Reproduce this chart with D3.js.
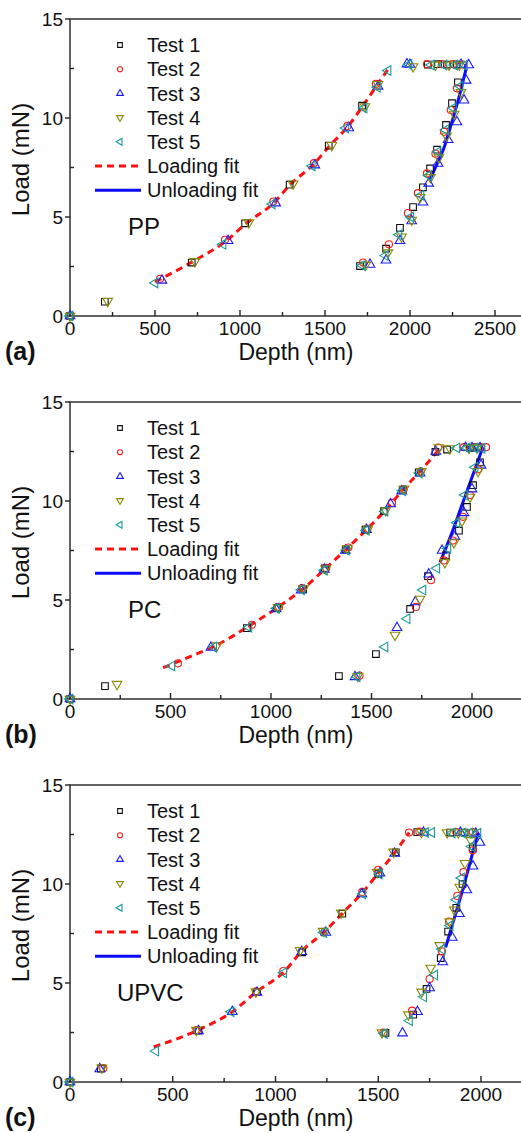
<!DOCTYPE html>
<html>
<head>
<meta charset="utf-8">
<script src="https://cdn.jsdelivr.net/npm/d3@7/dist/d3.min.js"></script>
<style>
  html, body { margin: 0; padding: 0; background: #fff; }
  svg { display: block; font-family: "Liberation Sans", Arial, sans-serif; }
</style>
</head>
<body>
<svg id="chart" width="521" height="1133"></svg>
<script>
// ---- Nanoindentation load–depth data: [depth (nm), load (mN)] ----
const testNames = ["Test 1", "Test 2", "Test 3", "Test 4", "Test 5"];
const testColors = ["#111111", "#ff1a1a", "#1a1aff", "#8a8a00", "#1a9a9a"];
const panelTags = ["(a)", "(b)", "(c)"];
const materials = ["PP", "PC", "UPVC"];
const loadTicks = [0, 5, 10, 15];
const depthTicksA = [0, 500, 1000, 1500, 2000, 2500];
const depthTicksBC = [0, 500, 1000, 1500, 2000];

// (a) PP
const ppTest1 = [[0,0],[205,0.72],[716,2.7],[1030,4.68],[1292,6.63],[1522,8.6],[1718,10.62],
  [2105,12.7],[2165,12.72],[2218,12.7],[2276,12.7],
  [2282,11.8],[2247,10.75],[2212,9.65],[2159,8.4],[2118,7.45],[2076,6.5],[2018,5.5],[1941,4.45],[1859,3.4],[1706,2.52]];
const ppTest2 = [[0,0],[530,1.88],[912,3.85],[1196,5.78],[1435,7.72],[1632,9.6],[1800,11.72],
  [2100,12.72],[2188,12.72],[2253,12.72],[2312,12.7],
  [2276,11.5],[2240,10.4],[2200,9.3],[2150,8.2],[2100,7.2],[2047,6.2],[1988,5.2],[1876,3.62],[1724,2.7]];
const ppTest3 = [[0,0],[541,1.8],[930,3.8],[1210,5.7],[1440,7.62],[1640,9.5],[1812,11.6],
  [1982,12.72],[2000,12.7],[2300,12.7],[2345,12.68],
  [2330,11.9],[2318,10.9],[2276,9.8],[2224,8.9],[2165,7.7],[2110,6.7],[2076,5.75],[2010,4.8],[1941,3.8],[1859,2.82],[1765,2.6]];
const ppTest4 = [[0,0],[222,0.75],[735,2.76],[1052,4.72],[1312,6.68],[1540,8.62],[1735,10.58],[1812,11.7],
  [2018,12.6],[2150,12.68],[2230,12.68],[2290,12.68],
  [2300,11.3],[2260,10.2],[2215,9.1],[2170,8.0],[2120,7.0],[2060,6.0],[2010,4.85],[1950,4.0],[1870,3.2],[1740,2.58]];
const ppTest5 = [[0,0],[500,1.67],[900,3.62],[1190,5.66],[1425,7.58],[1622,9.5],[1730,10.5],[1808,11.55],[1871,12.4],
  [1994,12.7],[2125,12.68],[2200,12.68],[2262,12.68],[2320,12.66],
  [2295,11.6],[2255,10.5],[2210,9.4],[2165,8.3],[2110,7.1],[2065,6.1],[2005,5.0],[1935,4.1],[1855,3.05],[1720,2.55]];
const ppLoadingFit = [[500,1.72],[716,2.72],[912,3.75],[1040,4.7],[1200,5.72],[1295,6.63],[1432,7.66],
  [1528,8.6],[1632,9.55],[1722,10.6],[1805,11.65],[1870,12.45]];
const ppUnloadingFit = [[2330,12.5],[2290,11.1],[2250,9.9],[2200,8.5],[2150,7.5],[2118,6.9]];

// (b) PC
const pcTest1 = [[0,0],[174,0.65],[880,3.58],[1030,4.6],[1160,5.55],[1268,6.6],[1372,7.55],[1470,8.55],[1562,9.5],[1655,10.55],[1735,11.45],[1818,12.48],
  [1876,12.6],[1990,12.68],[2030,12.7],
  [2040,11.95],[2005,10.8],[1975,9.7],[1935,8.5],[1870,7.25],[1781,6.2],[1692,4.55],[1522,2.27],[1338,1.16]];
const pcTest2 = [[0,0],[537,1.8],[905,3.75],[1040,4.65],[1155,5.6],[1275,6.62],[1385,7.65],[1480,8.6],[1602,9.9],[1660,10.6],[1745,11.5],[1832,12.7],
  [1960,12.72],[2010,12.72],[2045,12.72],[2070,12.72],
  [2030,11.6],[1990,10.3],[1955,9.2],[1905,8.0],[1860,7.0],[1796,6.0],[1721,4.65],[1440,1.18]];
const pcTest3 = [[0,0],[701,2.6],[1025,4.55],[1150,5.5],[1265,6.55],[1370,7.5],[1475,8.55],[1595,9.85],[1650,10.5],[1742,11.4],[1820,12.5],
  [1968,12.7],[2000,12.68],[2040,12.68],
  [2045,11.8],[2000,10.6],[1960,9.4],[1915,8.2],[1851,7.5],[1785,6.3],[1718,4.9],[1627,3.6],[1418,1.12]];
const pcTest4 = [[0,0],[234,0.75],[731,2.7],[1035,4.62],[1162,5.58],[1272,6.58],[1380,7.6],[1482,8.6],[1570,9.52],[1662,10.62],[1748,11.5],
  [1835,12.7],[1890,12.65],[1985,12.68],[2025,12.68],
  [2030,11.5],[1990,10.2],[1950,9.0],[1910,7.9],[1865,6.9],[1741,5.05],[1617,3.23],[1432,1.15]];
const pcTest5 = [[0,0],[507,1.67],[715,2.62],[890,3.62],[1028,4.58],[1152,5.52],[1266,6.5],[1375,7.52],[1474,8.52],[1567,9.48],[1655,10.52],[1738,11.42],
  [1925,12.68],[1975,12.68],[2015,12.68],[2050,12.66],
  [2015,11.7],[1965,10.3],[1925,8.9],[1880,7.6],[1825,6.6],[1756,5.5],[1677,4.05],[1567,2.63],[1428,1.13]];
const pcLoadingFit = [[463,1.58],[600,2.15],[730,2.72],[880,3.62],[1030,4.6],[1160,5.57],[1270,6.58],
  [1375,7.57],[1478,8.58],[1570,9.55],[1655,10.55],[1740,11.48],[1832,12.55]];
const pcUnloadingFit = [[2050,12.6],[2000,11.2],[1950,9.8],[1900,8.4],[1841,6.9]];

// (c) UPVC
const upvcTest1 = [[0,0],[150,0.68],[625,2.6],[910,4.55],[1130,6.55],[1325,8.5],[1500,10.5],[1585,11.6],
  [1690,12.62],[1850,12.6],[1920,12.6],
  [1960,11.8],[1910,10.0],[1880,8.8],[1840,7.6],[1804,6.26],[1735,4.7],[1670,3.4],[1535,2.48]];
const upvcTest2 = [[0,0],[162,0.7],[618,2.62],[905,4.58],[1038,5.6],[1240,7.6],[1422,9.6],[1500,10.72],[1650,12.6],
  [1700,12.65],[1880,12.62],[1960,12.62],
  [1960,11.7],[1915,10.6],[1885,9.4],[1845,8.1],[1810,6.6],[1750,5.2],[1665,3.6],[1525,2.5]];
const upvcTest3 = [[0,0],[145,0.66],[625,2.58],[790,3.55],[910,4.52],[1128,6.58],[1245,7.55],[1420,9.5],[1508,10.55],[1580,11.55],
  [1720,12.6],[1900,12.6],[1975,12.55],
  [1995,12.1],[1961,10.9],[1931,9.7],[1895,8.5],[1860,7.3],[1814,6.06],[1750,4.75],[1691,3.55],[1618,2.47]];
const upvcTest4 = [[0,0],[155,0.72],[615,2.62],[905,4.55],[1120,6.65],[1232,7.62],[1320,8.55],[1495,10.6],[1575,11.62],
  [1710,12.62],[1835,12.6],[1890,12.6],[1950,12.6],
  [1951,12.2],[1922,11.05],[1897,9.85],[1870,8.7],[1848,8.1],[1799,6.9],[1755,5.76],[1711,4.55],[1647,3.4],[1518,2.5]];
const upvcTest5 = [[0,0],[417,1.56],[784,3.55],[1040,5.52],[1235,7.55],[1425,9.5],[1505,10.5],
  [1730,12.6],[1760,12.6],[1860,12.58],[1910,12.58],[1945,12.58],[1985,12.56],
  [1955,11.9],[1905,10.3],[1880,9.2],[1850,7.9],[1810,6.7],[1775,5.4],[1721,4.3],[1652,3.1],[1530,2.45]];
const upvcLoadingFit = [[407,1.77],[622,2.62],[790,3.55],[907,4.55],[1040,5.55],[1127,6.6],[1240,7.6],
  [1323,8.5],[1422,9.55],[1504,10.6],[1578,11.55],[1650,12.6]];
const upvcUnloadingFit = [[1985,12.6],[1945,11.0],[1905,9.5],[1865,8.1],[1828,6.8]];

// ---- Panel layout ----
const panels = [
  { tests: [ppTest1, ppTest2, ppTest3, ppTest4, ppTest5], loadFit: ppLoadingFit, unloadFit: ppUnloadingFit,
    xTicks: depthTicksA, xDomain: [0, 2500], xRange: [70, 495], yRange: [316, 19] },
  { tests: [pcTest1, pcTest2, pcTest3, pcTest4, pcTest5], loadFit: pcLoadingFit, unloadFit: pcUnloadingFit,
    xTicks: depthTicksBC, xDomain: [0, 2000], xRange: [70, 472], yRange: [699, 402] },
  { tests: [upvcTest1, upvcTest2, upvcTest3, upvcTest4, upvcTest5], loadFit: upvcLoadingFit, unloadFit: upvcUnloadingFit,
    xTicks: depthTicksBC, xDomain: [0, 2000], xRange: [70, 481], yRange: [1082, 785] }
];

const svg = d3.select("#chart");
const frameRight = 523;

// marker shape per test: square, circle, up, down, left triangles
const shapes = [
  { type: d3.symbolSquare, rot: 0, size: 44 },
  { type: d3.symbolCircle, rot: 0, size: 40 },
  { type: d3.symbolTriangle, rot: 0, size: 40 },
  { type: d3.symbolTriangle, rot: 180, size: 40 },
  { type: d3.symbolTriangle, rot: -90, size: 40 }
];

panels.forEach((p, i) => {
  const g = svg.append("g");
  const x = d3.scaleLinear().domain(p.xDomain).range(p.xRange);
  const y = d3.scaleLinear().domain([0, 15]).range(p.yRange);
  const x0 = x(0), y0 = y(0), yTop = y(15);

  // frame
  g.append("rect").attr("x", x0).attr("y", yTop)
    .attr("width", frameRight - x0).attr("height", y0 - yTop)
    .attr("fill", "none").attr("stroke", "#222").attr("stroke-width", 1.4);

  // y-axis: majors outward, minors inward
  const yMinor = d3.range(2.5, 15, 5);
  g.selectAll(".ymaj").data(loadTicks).join("line")
    .attr("x1", x0 - 5).attr("x2", x0).attr("y1", d => y(d)).attr("y2", d => y(d))
    .attr("stroke", "#222").attr("stroke-width", 1.4);
  g.selectAll(".ymin").data(yMinor).join("line")
    .attr("x1", x0).attr("x2", x0 + 4).attr("y1", d => y(d)).attr("y2", d => y(d))
    .attr("stroke", "#222").attr("stroke-width", 1.4);
  g.selectAll(".ylab").data(loadTicks).join("text")
    .attr("x", x0 - 7).attr("y", d => y(d)).attr("dy", "0.36em")
    .attr("text-anchor", "end").attr("font-size", 19).attr("fill", "#111")
    .text(d => d);

  // x-axis: ticks inward
  const xMax = x.invert(frameRight);
  const xMinor = d3.range(250, xMax, 500);
  g.selectAll(".xmaj").data(p.xTicks).join("line")
    .attr("x1", d => x(d)).attr("x2", d => x(d)).attr("y1", y0).attr("y2", y0 - 6)
    .attr("stroke", "#222").attr("stroke-width", 1.4);
  g.selectAll(".xmin").data(xMinor).join("line")
    .attr("x1", d => x(d)).attr("x2", d => x(d)).attr("y1", y0).attr("y2", y0 - 4)
    .attr("stroke", "#222").attr("stroke-width", 1.4);
  g.selectAll(".xlab").data(p.xTicks).join("text")
    .attr("x", d => x(d)).attr("y", y0 + 19)
    .attr("text-anchor", "middle").attr("font-size", 19).attr("fill", "#111")
    .text(d => d);

  // axis titles and panel tag
  g.append("text").attr("transform", `translate(29,${(y0 + yTop) / 2 - 8}) rotate(-90)`)
    .attr("text-anchor", "middle").attr("font-size", 24).attr("fill", "#111").text("Load (mN)");
  g.append("text").attr("x", 296).attr("y", y0 + 44)
    .attr("text-anchor", "middle").attr("font-size", 23).attr("fill", "#111").text("Depth (nm)");
  g.append("text").attr("x", 5).attr("y", y0 + 44)
    .attr("font-size", 25).attr("font-weight", "bold").attr("fill", "#111").text(panelTags[i]);

  // material label
  g.append("text").attr("x", i === 2 ? 117 : 128).attr("y", yTop + 216)
    .attr("font-size", 24).attr("fill", "#111").text(materials[i]);

  // fits
  const line = d3.line().x(d => x(d[0])).y(d => y(d[1])).curve(d3.curveMonotoneX);
  const lineU = d3.line().x(d => x(d[0])).y(d => y(d[1])).curve(d3.curveCatmullRom);
  g.append("path").attr("d", line(p.loadFit)).attr("fill", "none")
    .attr("stroke", "#ff1010").attr("stroke-width", 3).attr("stroke-dasharray", "7,5");
  g.append("path").attr("d", lineU(p.unloadFit)).attr("fill", "none")
    .attr("stroke", "#0a0aff").attr("stroke-width", 3);

  // data markers
  p.tests.forEach((pts, t) => {
    const s = shapes[t];
    const sym = d3.symbol().type(s.type).size(s.size);
    g.selectAll(null).data(pts).join("path")
      .attr("d", sym)
      .attr("transform", d => `translate(${x(d[0])},${y(d[1])}) rotate(${s.rot})`)
      .attr("fill", "none").attr("stroke", testColors[t]).attr("stroke-width", 1.1);
  });

  // legend
  const lg = g.append("g");
  const rowY = k => yTop + 26 + k * 24.2;
  testNames.forEach((name, t) => {
    const s = shapes[t];
    lg.append("path").attr("d", d3.symbol().type(s.type).size(s.size * 0.5)())
      .attr("transform", `translate(120,${rowY(t)}) rotate(${s.rot})`)
      .attr("fill", "none").attr("stroke", testColors[t]).attr("stroke-width", 1.1);
    lg.append("text").attr("x", 147).attr("y", rowY(t)).attr("dy", "0.36em")
      .attr("font-size", 20).attr("fill", "#111").text(name);
  });
  lg.append("line").attr("x1", 95).attr("x2", 141).attr("y1", rowY(5)).attr("y2", rowY(5))
    .attr("stroke", "#ff1010").attr("stroke-width", 3).attr("stroke-dasharray", "7,5");
  lg.append("text").attr("x", 147).attr("y", rowY(5)).attr("dy", "0.36em")
    .attr("font-size", 20).attr("fill", "#111").text("Loading fit");
  lg.append("line").attr("x1", 95).attr("x2", 141).attr("y1", rowY(6)).attr("y2", rowY(6))
    .attr("stroke", "#0a0aff").attr("stroke-width", 3);
  lg.append("text").attr("x", 147).attr("y", rowY(6)).attr("dy", "0.36em")
    .attr("font-size", 20).attr("fill", "#111").text("Unloading fit");
});
</script>
</body>
</html>
